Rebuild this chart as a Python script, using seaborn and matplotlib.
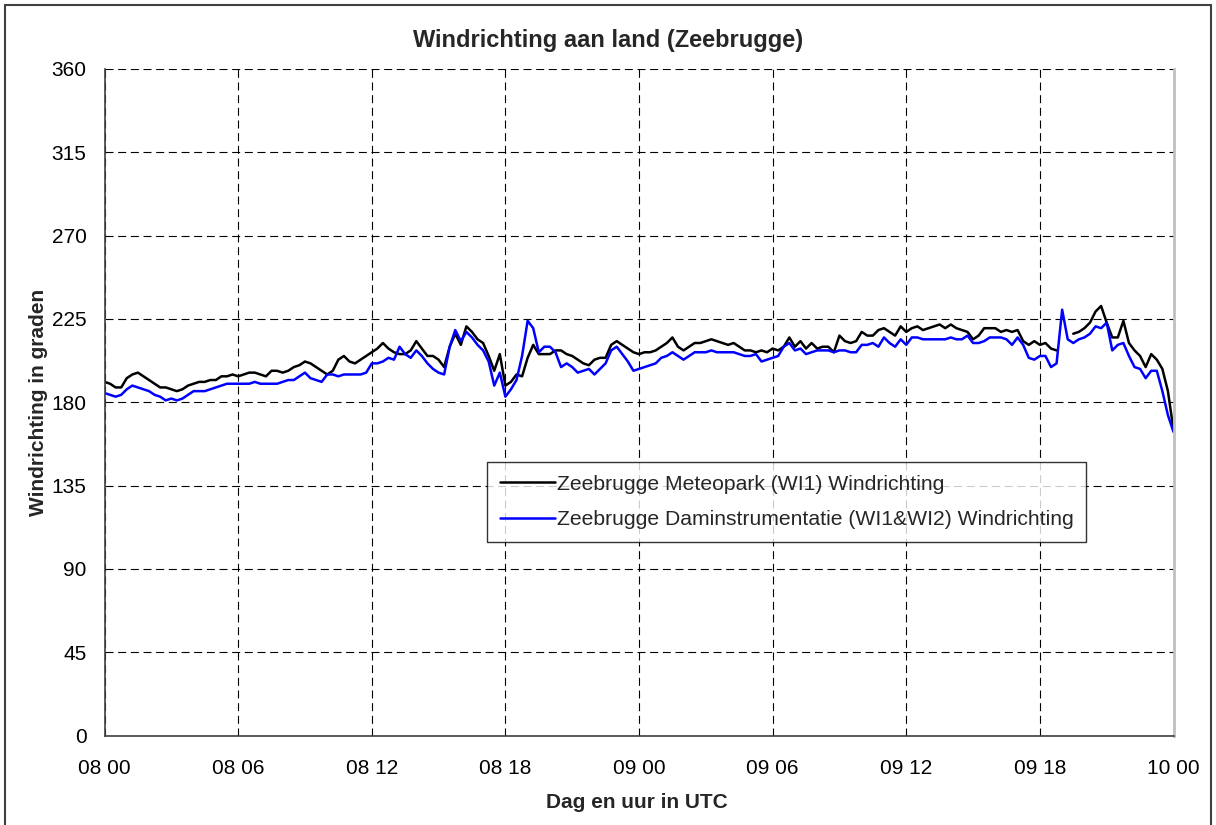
import numpy as np
import pandas as pd
import matplotlib
matplotlib.use("Agg")
import matplotlib.pyplot as plt
import matplotlib.dates as mdates
from matplotlib.patches import Rectangle
import seaborn as sns

# ---- data (15-minute samples from 08 00 to 10 00 UTC) ----
start_time = "2008-03-08 00:00"
sample_step = "15min"
end_time = "2008-03-10 00:00"

series_names = ["Zeebrugge Meteopark (WI1) Windrichting",
                "Zeebrugge Daminstrumentatie (WI1&WI2) Windrichting"]
series_colors = ["#000000", "#0000FF"]

meteopark = [
    191, 190, 188, 188, 193, 195,
    196, 194, 192, 190, 188, 188, 187, 186,
    187, 189, 190, 191, 191, 192, 192, 194,
    194, 195, 194, 195, 196, 196, 195, 194,
    197, 197, 196, 197, 199, 200, 202, 201,
    199, 197, 195, 197, 203, 205, 202, 201,
    203, 205, 207, 209, 212, 209, 207, 206,
    206, 208, 213, 209, 205, 205, 203, 199,
    210, 217, 211, 221, 218, 214, 212, 205,
    197, 206, 189, 191, 195, 194, 204, 211,
    206, 206,
    206, 208, 208, 206, 205, 203, 201,
    200, 203, 204, 204, 211, 213, 211, 209,
    207, 206, 207, 207, 208, 210, 212, 215,
    210, 208, 210, 212, 212, 213, 214, 213,
    212, 211, 212, 210, 208, 208, 207, 208,
    207, 209, 208, 210, 215, 210, 213, 209,
    212, 209, 210, 210, 207, 216, 213, 212,
    213, 218, 216, 216, 219, 220, 218, 216,
    221, 218, 220, 221, 219, 220, 221, 222,
    220, 222, 220, 219, 218, 214, 216, 220,
    220,
    220, 218, 219, 218, 219, 213, 211, 213,
    211, 212, 209, 208, None, None, 217, 218,
    220, 223, 229, 232, 223, 215, 215, 224,
    212, 208, 205, 199, 206, 203, 198, 186,
    165,
]

daminstrumentatie = [
    185, 184, 183, 184, 187, 189,
    188, 187, 186, 184, 183, 181, 182, 181,
    182, 184, 186, 186, 186, 187, 188, 189,
    190, 190, 190, 190, 190, 191, 190, 190,
    190, 190, 191, 192, 192, 194, 196, 193,
    192, 191, 195, 195, 194, 195, 195, 195,
    195, 196, 201, 201, 202, 204, 203, 210,
    206, 204, 208, 205, 201, 198, 196, 195,
    210, 219, 213, 218, 215, 211, 208, 202,
    189, 196, 183, 187, 192, 205, 224, 220,
    207, 210,
    210, 207, 199, 201, 199, 196, 197,
    198, 195, 198, 201, 208, 210, 206, 202,
    197, 198, 199, 200, 201, 204, 205, 207,
    205, 203, 205, 207, 207, 207, 208, 207,
    207, 207, 207, 206, 205, 205, 206, 202,
    203, 204, 205, 210, 212, 208, 209, 206,
    207, 208, 208, 208, 207, 208, 208, 207,
    207, 211, 211, 212, 210, 215, 212, 210,
    214, 211, 215, 215, 214, 214, 214, 214,
    214, 215, 214, 214, 216, 212, 212, 213,
    215,
    215, 215, 214, 211, 215, 211, 204, 203,
    205, 205, 199, 201, 230, 214, 212, 214,
    215, 217, 221, 220, 223, 208, 211, 212,
    205, 199, 198, 193, 197, 197, 186, 173,
    164,
]

y_ticks = [0, 45, 90, 135, 180, 225, 270, 315, 360]
x_tick_hours = [0, 6, 12, 18, 24, 30, 36, 42, 48]

title_text = "Windrichting aan land (Zeebrugge)"
x_label = "Dag en uur in UTC"
y_label = "Windrichting in graden"

# ---- build frame ----
times = pd.date_range(start_time, periods=len(meteopark), freq=sample_step)
df = pd.DataFrame({
    "tijd": times,
    series_names[0]: pd.to_numeric(pd.Series(meteopark, dtype="object"), errors="coerce").values,
    series_names[1]: pd.to_numeric(pd.Series(daminstrumentatie, dtype="object"), errors="coerce").values,
})
long_df = df.melt(id_vars="tijd", var_name="reeks", value_name="graden")
# split each series into segments at missing values so gaps stay visible
long_df["segment"] = long_df.groupby("reeks")["graden"].transform(lambda s: s.isna().cumsum())
long_df = long_df.dropna(subset=["graden"]).reset_index(drop=True)

# ---- style ----
sns.set_theme(style="white")
plt.rcParams["font.family"] = ["Liberation Sans", "DejaVu Sans"]

W, H = 1216, 825
fig = plt.figure(figsize=(W / 100, H / 100), dpi=100)
fig.patch.set_facecolor("white")

left, right, top, bottom = 104.5, 1173.5, 69.0, 735.5
ax = fig.add_axes([left / W, 1 - bottom / H, (right - left) / W, (bottom - top) / H])
ax.set_facecolor("white")

sns.lineplot(data=long_df, x="tijd", y="graden", hue="reeks", units="segment",
             palette=series_colors, hue_order=series_names,
             estimator=None, linewidth=1.8, ax=ax, legend=True)

# axes limits & ticks
t0 = pd.Timestamp(start_time)
ax.set_xlim(t0, pd.Timestamp(end_time))
ax.set_ylim(0, 360)
ax.set_yticks(y_ticks)
ax.set_xticks([t0 + pd.Timedelta(hours=h) for h in x_tick_hours])
ax.xaxis.set_major_formatter(mdates.DateFormatter("%d %H"))

ax.tick_params(axis="both", which="major", labelsize=15, colors="#000000",
               direction="out", length=5, width=1.0)
ax.tick_params(axis="y", pad=8)
ax.tick_params(axis="x", pad=12)
for t in ax.get_xticklabels() + ax.get_yticklabels():
    t.set_color("#000000")

ax.grid(True, which="major", color="#000000", linestyle=(0, (7.2, 4.2)), linewidth=0.8)
ax.set_axisbelow(True)

for s in ["left", "bottom"]:
    ax.spines[s].set_color("#404040")
    ax.spines[s].set_linewidth(1.2)
ax.spines["top"].set_visible(False)
ax.spines["right"].set_color("#c0c0c0")
ax.spines["right"].set_linewidth(2.0)

ax.set_xlabel(x_label, fontsize=15, fontweight="bold")
ax.set_ylabel(y_label, fontsize=15, fontweight="bold")
ax.xaxis.set_label_coords((637 - left) / (right - left), -(793 - bottom) / (bottom - top))
ax.yaxis.set_label_coords(-(104.5 - 48) / (right - left), 0.5)

fig.text(608 / W, 1 - 41 / H, title_text, ha="center", va="center",
         fontsize=17, fontweight="bold")

# legend
leg = ax.legend(loc="upper left", bbox_to_anchor=(487 / W, 1 - 462 / H),
                bbox_transform=fig.transFigure, fontsize=15.2, frameon=True,
                fancybox=False, shadow=False, handlelength=2.6, handletextpad=0.1,
                labelspacing=0.78, borderpad=0.6, borderaxespad=0)
leg.get_frame().set_edgecolor("#000000")
leg.get_frame().set_linewidth(1.0)
for line in leg.get_lines():
    line.set_linewidth(1.8)

# chart frame
fig.add_artist(Rectangle((5 / W, -0.02), (1211 - 5) / W, 1 - 5 / H + 0.02,
                         transform=fig.transFigure, fill=False,
                         edgecolor="#404040", linewidth=1.5))

fig.savefig("out.png", dpi=100, facecolor="white")
